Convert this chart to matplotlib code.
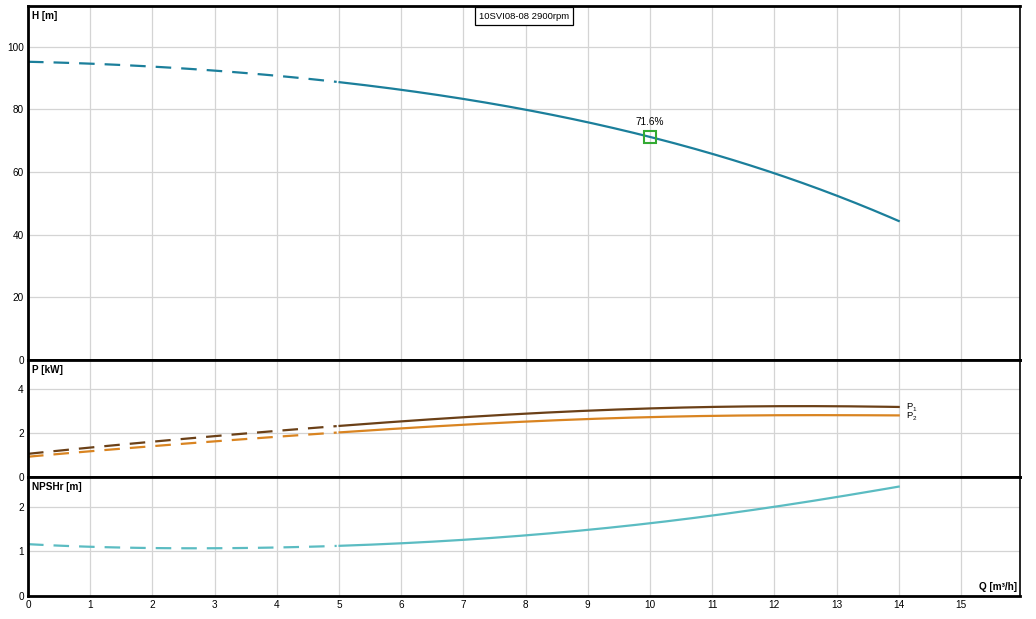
import matplotlib.pyplot as plt
import numpy as np

plt.rcParams['font.family'] = ['Liberation Sans', 'DejaVu Sans']

# data
q = [0, 1, 2, 3, 4, 5, 6, 7, 8, 9, 10, 11, 12, 13, 14]
head = [95.2, 94.6, 93.6, 92.4, 90.8, 88.6, 86.3, 83.3, 80.0, 75.8, 71.1, 66.0, 59.6, 52.4, 44.4]
p1 = [1.05, 1.33, 1.6, 1.86, 2.09, 2.29, 2.53, 2.71, 2.88, 3.0, 3.1, 3.17, 3.21, 3.21, 3.17]
p2 = [0.92, 1.16, 1.4, 1.62, 1.82, 2.01, 2.2, 2.38, 2.51, 2.62, 2.71, 2.77, 2.8, 2.8, 2.79]
npsh = [1.16, 1.11, 1.08, 1.07, 1.08, 1.12, 1.19, 1.27, 1.36, 1.48, 1.63, 1.8, 2.0, 2.23, 2.45]
q_split = 5
bep_q, bep_h, bep_label = 10, 71.3, '71.6%'
title = '10SVI08-08 2900rpm'

fs = 7.2
fig = plt.figure(figsize=(10.36, 6.19), dpi=100)
left, right = 28 / 1036, 1020 / 1036
def fy(px):
    return 1 - px / 619

ax_h = fig.add_axes([left, fy(360), right - left, fy(6) - fy(360)])
ax_p = fig.add_axes([left, fy(477), right - left, fy(360) - fy(477)], sharex=ax_h)
ax_n = fig.add_axes([left, fy(596), right - left, fy(477) - fy(596)], sharex=ax_h)

def smooth(x, y):
    xs = np.linspace(x[0], x[-1], 300)
    coef = np.polyfit(x, y, 5)
    return xs, np.polyval(coef, xs)

def draw(ax, x, y, color, lw=1.6):
    xs, ys = smooth(x, y)
    m = xs <= q_split
    ax.plot(xs[m], ys[m], color=color, lw=lw, ls=(0, (7, 4.5)), solid_capstyle='butt')
    ax.plot(xs[~m], ys[~m], color=color, lw=lw, ls='-')

for ax in (ax_h, ax_p, ax_n):
    ax.set_xlim(0, 15.95)
    ax.grid(True, color='#d4d4d4', lw=0.9)
    ax.set_axisbelow(True)
    ax.tick_params(length=0, labelsize=fs, pad=3)
    for s in ('left', 'top', 'bottom'):
        ax.spines[s].set_linewidth(2)
    ax.spines['right'].set_linewidth(1.2)
    ax.set_xticks(range(0, 16))

draw(ax_h, q, head, '#1b7f9b')
ax_h.set_ylim(0, 113)
ax_h.set_yticks([0, 20, 40, 60, 80, 100])
ax_h.plot([bep_q], [bep_h], marker='s', ms=8, mfc='none', mec='#33aa33', mew=1.5)
ax_h.text(bep_q, bep_h + 3.0, bep_label, ha='center', va='bottom', fontsize=fs)
ax_h.text(0.004, 0.985, 'H [m]', transform=ax_h.transAxes, ha='left', va='top',
          fontsize=fs, fontweight='bold')
ax_h.text(0.5, 0.984, title, transform=ax_h.transAxes, ha='center', va='top', fontsize=6.8,
          bbox=dict(boxstyle='square,pad=0.45', fc='white', ec='black', lw=0.9))

draw(ax_p, q, p1, '#6b4017')
draw(ax_p, q, p2, '#d98421')
ax_p.set_ylim(0, 5.3)
ax_p.set_yticks([0, 2, 4])
for val, sub, dy in ((p1[-1], '1', 0.02), (p2[-1], '2', -0.02)):
    ax_p.text(14.12, val + dy, 'P', fontsize=6.8, va='center', ha='left')
    ax_p.text(14.22, val + dy - 0.12, sub, fontsize=4.5, va='center', ha='left')
ax_p.text(0.004, 0.96, 'P [kW]', transform=ax_p.transAxes, ha='left', va='top',
          fontsize=fs, fontweight='bold')

draw(ax_n, q, npsh, '#5bbcc2')
ax_n.set_ylim(0, 2.67)
ax_n.set_yticks([0, 1, 2])
ax_n.text(0.004, 0.96, 'NPSHr [m]', transform=ax_n.transAxes, ha='left', va='top',
          fontsize=fs, fontweight='bold')
ax_n.text(0.997, 0.03, 'Q [m³/h]', transform=ax_n.transAxes, ha='right', va='bottom',
          fontsize=fs, fontweight='bold')

plt.setp(ax_h.get_xticklabels(), visible=False)
plt.setp(ax_p.get_xticklabels(), visible=False)

fig.savefig('out.png', dpi=100, facecolor='white')
